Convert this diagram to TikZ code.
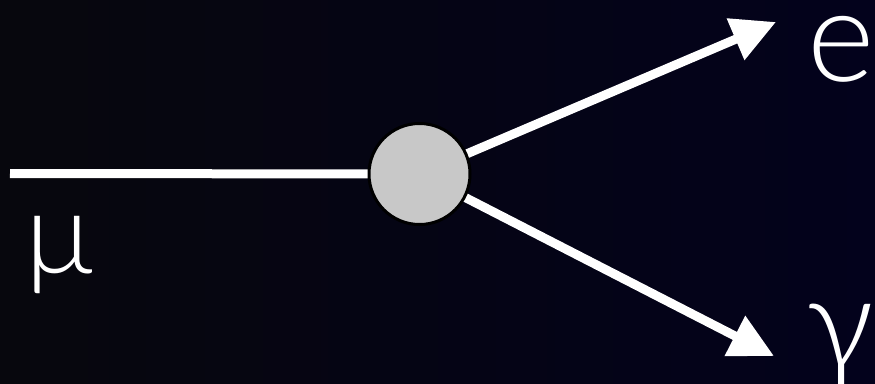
\documentclass[tikz,border=0pt]{standalone}
\usepackage{fontspec}
\setmainfont{Lato}[UprightFont=* Light]
\usetikzlibrary{arrows.meta,backgrounds}
\definecolor{bgleft}{RGB}{7,7,13}
\definecolor{bgright}{RGB}{3,2,28}
\definecolor{blobgray}{RGB}{200,200,200}
\tikzset{
  particle/.style={line width=9pt, white},
  outarrow/.style={particle, -{Triangle[length=44pt,width=43pt]}},
  vertexblob/.style={circle, fill=blobgray, draw=black, line width=3pt, minimum size=101pt, inner sep=0pt},
  lbl/.style={text=white, inner sep=0pt, anchor=base west},
}
\begin{document}
\begin{tikzpicture}[x=1pt,y=-1pt]
  \useasboundingbox (0,0) rectangle (875,383);
  \node[vertexblob] (v) at (419.5,174) {};
  \coordinate (mustart) at (10,173.5);
  \coordinate (etip) at (776,22);
  \coordinate (gtip) at (774,356);
  \begin{scope}[on background layer]
    \shade[left color=bgleft, right color=bgright] (0,0) rectangle (875,383);
    \draw[particle] (mustart) -- (v.center);
    \draw[outarrow] (v.center) -- (etip);
    \draw[outarrow] (v.center) -- (gtip);
  \end{scope}
  \node[lbl, font=\fontsize{115}{115}\selectfont] (mu) at (25,273) {μ};
  \node[lbl, font=\fontsize{129}{129}\selectfont] (e) at (807,81) {e};
  \node[lbl, font=\fontsize{129}{129}\selectfont] (g) at (806,368) {γ};
\end{tikzpicture}
\end{document}
